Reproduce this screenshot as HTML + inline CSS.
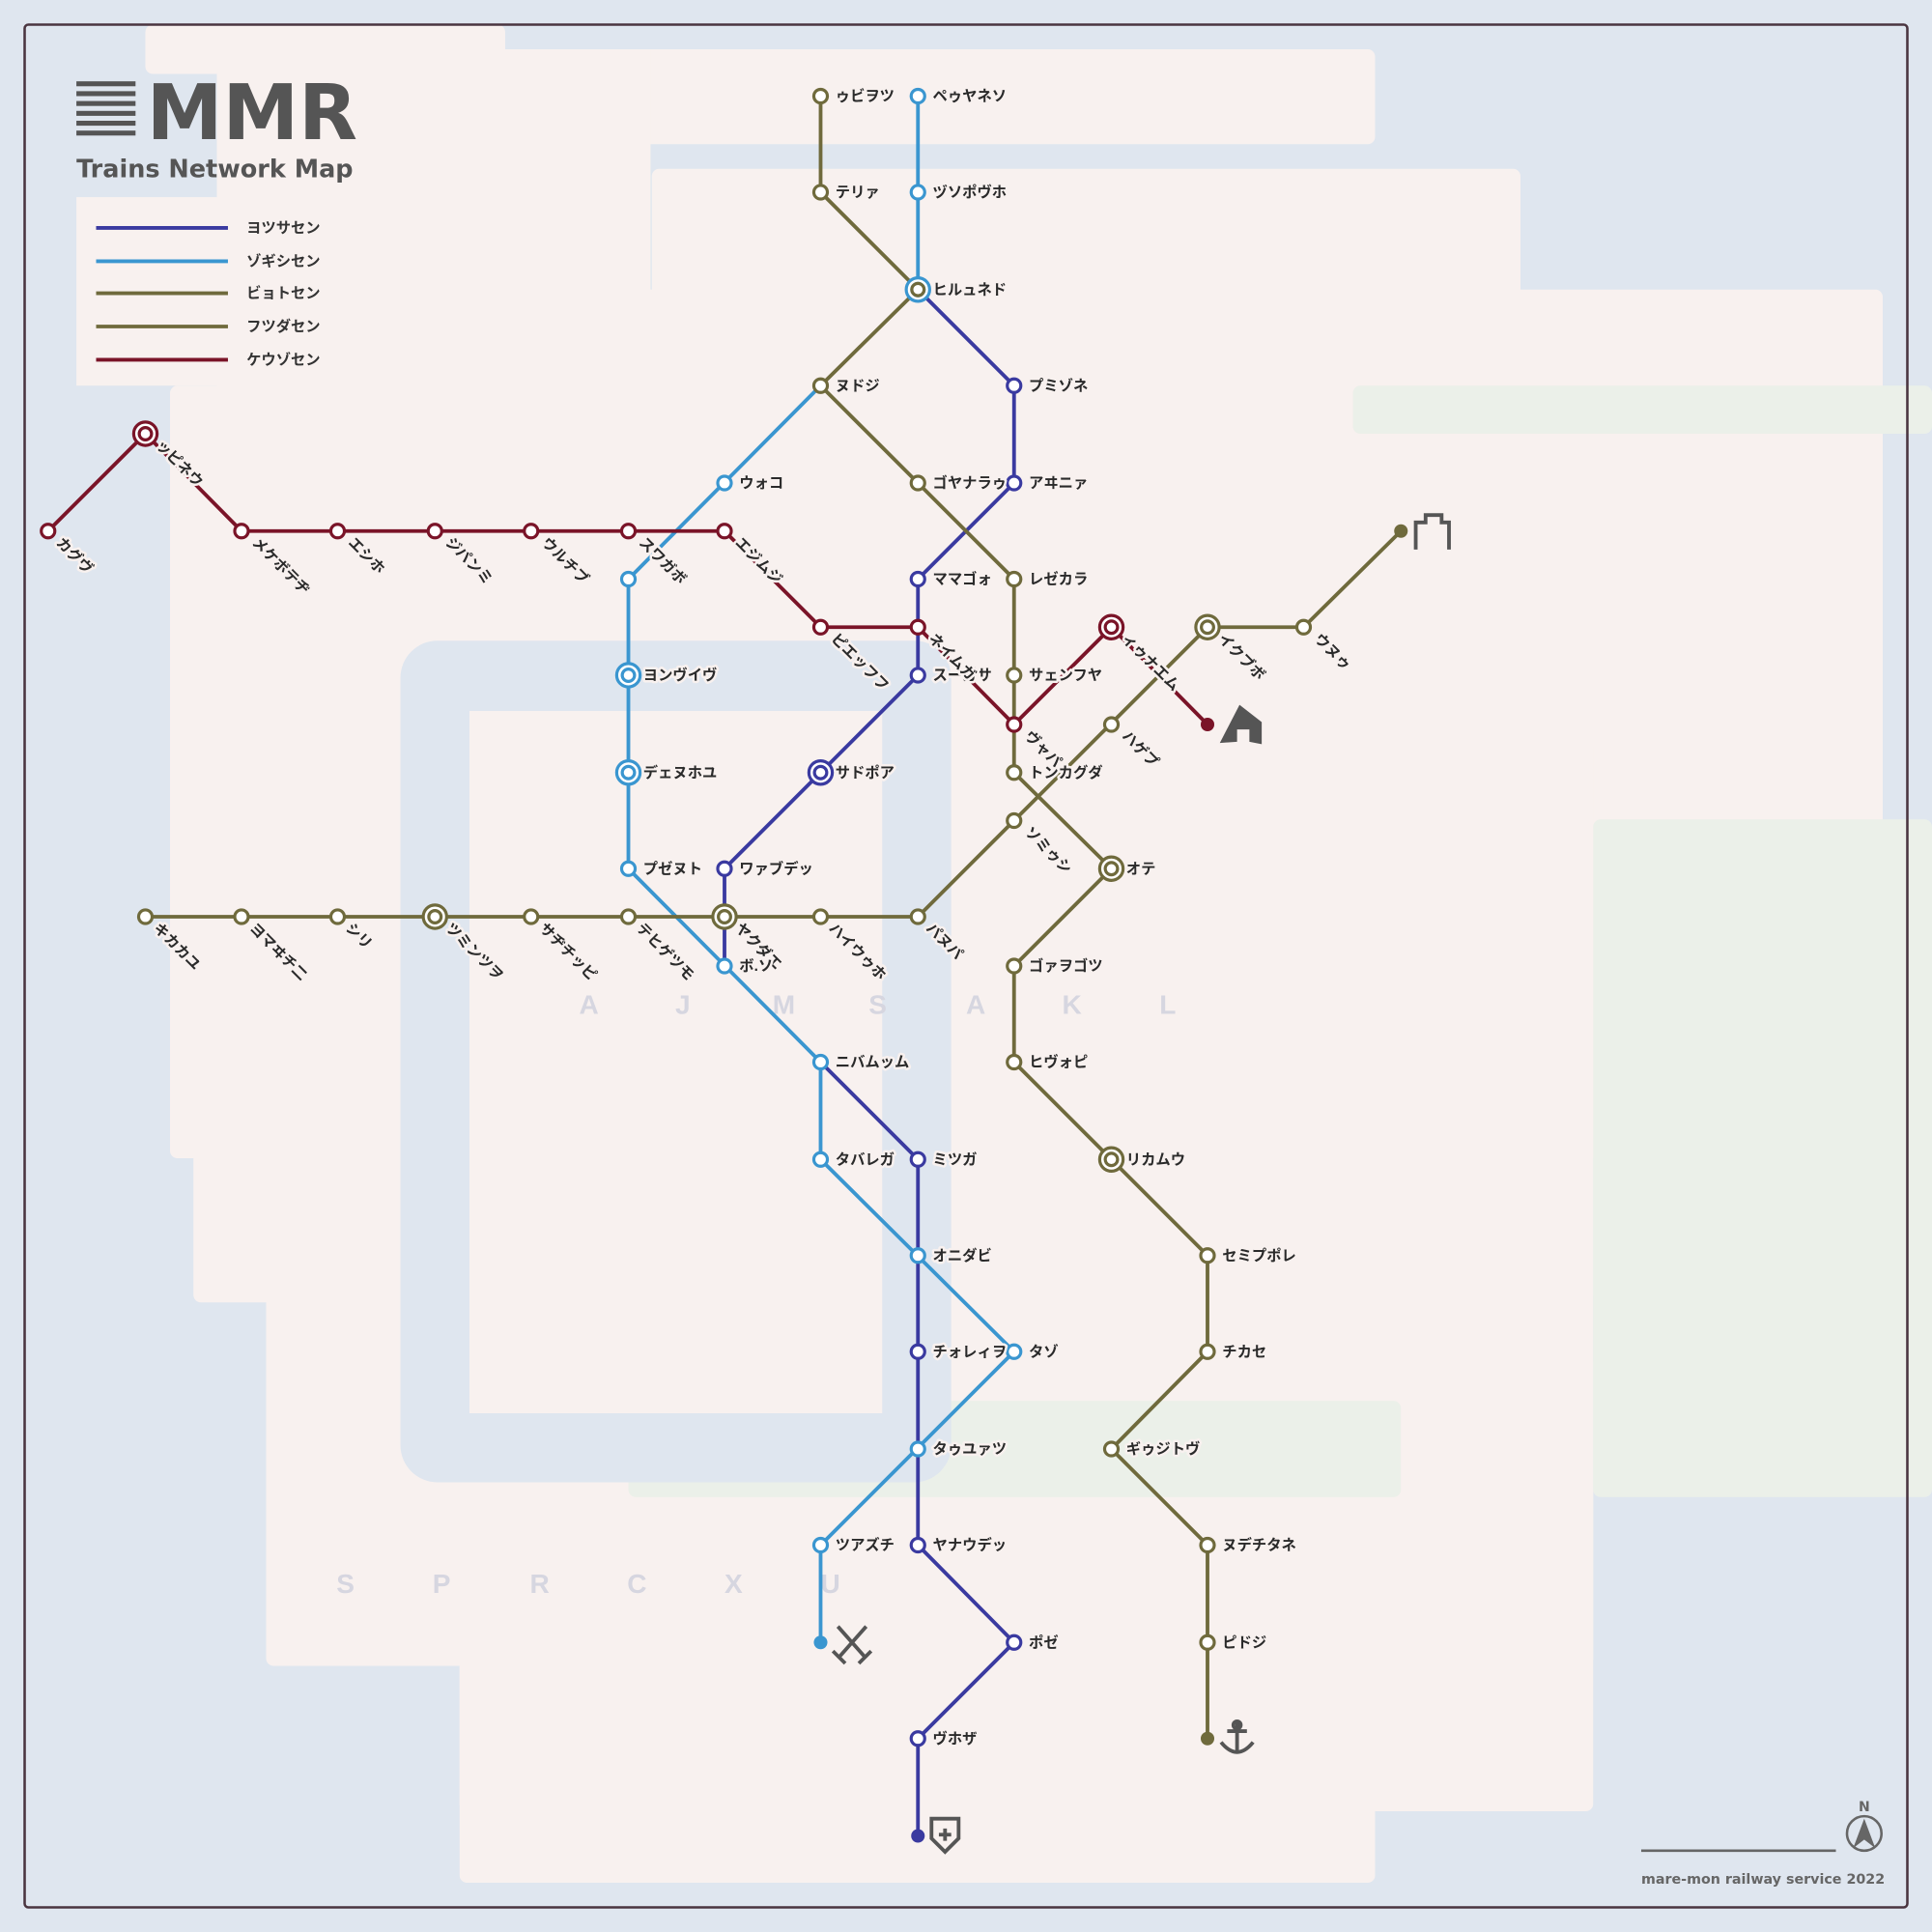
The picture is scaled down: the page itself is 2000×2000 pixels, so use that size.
<!DOCTYPE html>
<html><head><meta charset="utf-8"><style>
html,body{margin:0;padding:0;background:#dfe6ef;}
svg{display:block}
text{font-family:"Liberation Sans","Noto Sans CJK JP",sans-serif;}
.d{font-family:"DejaVu Sans","Liberation Sans",sans-serif;}
.l{font-size:12px;font-weight:bold;fill:#2a2a2a;paint-order:stroke;stroke:#f8f1ef;stroke-width:4px;stroke-linejoin:round}
.g{font-size:22px;fill:#d6d6e0;font-weight:bold}
.st{fill:#fff;stroke-width:2.5}
</style></head><body>
<svg width="2000" height="2000" viewBox="0 0 1568 1568" xmlns="http://www.w3.org/2000/svg">
<rect width="1568" height="1568" fill="#dfe6ef"/>
<g fill="#f8f1ef">
<rect x="118" y="20" width="292" height="40" rx="6"/>
<rect x="176" y="40" width="940" height="77" rx="6"/>
<rect x="176" y="40" width="352" height="290"/>
<rect x="62" y="160" width="180" height="153"/>
<rect x="529" y="137" width="705" height="110" rx="6"/>
<rect x="234" y="235" width="1294" height="430" rx="6"/>
<rect x="138" y="313" width="1390" height="627" rx="6"/>
<rect x="157" y="600" width="1136" height="457" rx="6"/>
<rect x="216" y="900" width="1077" height="452" rx="6"/>
<rect x="373" y="1100" width="920" height="370" rx="6"/>
<rect x="373" y="1300" width="743" height="228" rx="6"/>
</g>
<g fill="#ebf0e9">
<rect x="1098" y="313" width="470" height="39" rx="6"/>
<rect x="1293" y="665" width="275" height="550" rx="6"/>
<rect x="510" y="1137" width="627" height="78" rx="6"/>
</g>
<rect x="325" y="520" width="447" height="683" rx="30" fill="#dfe6ef"/>
<rect x="381" y="577" width="335" height="570" fill="#f8f1ef"/>
<rect x="20" y="20" width="1528" height="1528" rx="3" fill="none" stroke="#4a3540" stroke-width="2"/>

<!-- title -->
<g fill="#555">
<rect x="62" y="66" width="48" height="4"/><rect x="62" y="74" width="48" height="4"/><rect x="62" y="82" width="48" height="4"/>
<rect x="62" y="90" width="48" height="4"/><rect x="62" y="98" width="48" height="4"/><rect x="62" y="106" width="48" height="4"/>
</g>
<text class="d" x="119" y="113" font-size="62" font-weight="bold" fill="#555">MMR</text>
<text class="d" x="62" y="144" font-size="20" font-weight="bold" fill="#555">Trains Network Map</text>
<g stroke-width="3">
<line x1="78" y1="185" x2="185" y2="185" stroke="#3a3aa0"/>
<line x1="78" y1="212" x2="185" y2="212" stroke="#3a96d0"/>
<line x1="78" y1="238" x2="185" y2="238" stroke="#6f6a3c"/>
<line x1="78" y1="265" x2="185" y2="265" stroke="#6f6a3c"/>
<line x1="78" y1="292" x2="185" y2="292" stroke="#7a1428"/>
</g>
<g font-size="12" font-weight="bold" fill="#333">
<text x="200" y="189">ヨツサセン</text><text x="200" y="216">ゾギシセン</text><text x="200" y="242">ビョトセン</text><text x="200" y="269">フツダセン</text><text x="200" y="296">ケウゾセン</text>
</g>

<g class="g"><text x="470" y="823">A</text><text x="548" y="823">J</text><text x="627" y="823">M</text><text x="705" y="823">S</text><text x="784" y="823">A</text><text x="862" y="823">K</text><text x="941" y="823">L</text>
<text x="273" y="1293">S</text><text x="351" y="1293">P</text><text x="430" y="1293">R</text><text x="509" y="1293">C</text><text x="588" y="1293">X</text><text x="666" y="1293">U</text></g>

<!-- lines -->
<g fill="none" stroke-width="3" stroke-linejoin="round">
<polyline stroke="#3a96d0" points="745,78 745,235"/>
<polyline stroke="#3a96d0" points="666,313 510,470 510,705 666,862 666,941 823,1097 666,1254 666,1333"/>
<polyline stroke="#3a3aa0" points="745,235 823,313 823,392 745,470 745,548 588,705 588,784"/>
<polyline stroke="#3a3aa0" points="666,862 745,941 745,1254 823,1333 745,1411 745,1490"/>
<polyline stroke="#6f6a3c" points="666,78 666,156 745,235 666,313 745,392 823,470 823,627 902,705 823,784 823,862 902,941 980,1019 980,1097 902,1176 980,1254 980,1411"/>
<polyline stroke="#6f6a3c" points="118,744 745,744 980,509 1058,509 1137,431"/>
<polyline stroke="#7a1428" points="39,431 118,352 196,431 588,431 666,509 745,509 823,588 902,509"/>
<polyline stroke="#7a1428" points="902,509 980,588"/>
</g>

<!-- stations -->
<g class="st" stroke="#3a96d0"><circle cx="745" cy="78" r="5.5"/><circle cx="745" cy="156" r="5.5"/><circle cx="588" cy="392" r="5.5"/><circle cx="510" cy="470" r="5.5"/><circle cx="510" cy="705" r="5.5"/><circle cx="588" cy="784" r="5.5"/><circle cx="666" cy="862" r="5.5"/><circle cx="666" cy="941" r="5.5"/><circle cx="745" cy="1019" r="5.5"/><circle cx="823" cy="1097" r="5.5"/><circle cx="745" cy="1176" r="5.5"/><circle cx="666" cy="1254" r="5.5"/></g>
<g class="st" stroke="#3a3aa0"><circle cx="823" cy="313" r="5.5"/><circle cx="823" cy="392" r="5.5"/><circle cx="745" cy="470" r="5.5"/><circle cx="745" cy="548" r="5.5"/><circle cx="588" cy="705" r="5.5"/><circle cx="745" cy="941" r="5.5"/><circle cx="745" cy="1097" r="5.5"/><circle cx="745" cy="1254" r="5.5"/><circle cx="823" cy="1333" r="5.5"/><circle cx="745" cy="1411" r="5.5"/></g>
<g class="st" stroke="#6f6a3c"><circle cx="666" cy="78" r="5.5"/><circle cx="666" cy="156" r="5.5"/><circle cx="666" cy="313" r="5.5"/><circle cx="745" cy="392" r="5.5"/><circle cx="823" cy="470" r="5.5"/><circle cx="823" cy="548" r="5.5"/><circle cx="823" cy="627" r="5.5"/><circle cx="823" cy="784" r="5.5"/><circle cx="823" cy="862" r="5.5"/><circle cx="980" cy="1019" r="5.5"/><circle cx="980" cy="1097" r="5.5"/><circle cx="902" cy="1176" r="5.5"/><circle cx="980" cy="1254" r="5.5"/><circle cx="980" cy="1333" r="5.5"/>
<circle cx="118" cy="744" r="5.5"/><circle cx="196" cy="744" r="5.5"/><circle cx="274" cy="744" r="5.5"/><circle cx="431" cy="744" r="5.5"/><circle cx="510" cy="744" r="5.5"/><circle cx="666" cy="744" r="5.5"/><circle cx="745" cy="744" r="5.5"/><circle cx="823" cy="666" r="5.5"/><circle cx="902" cy="588" r="5.5"/><circle cx="1058" cy="509" r="5.5"/></g>
<g class="st" stroke="#7a1428"><circle cx="39" cy="431" r="5.5"/><circle cx="196" cy="431" r="5.5"/><circle cx="274" cy="431" r="5.5"/><circle cx="353" cy="431" r="5.5"/><circle cx="431" cy="431" r="5.5"/><circle cx="510" cy="431" r="5.5"/><circle cx="588" cy="431" r="5.5"/><circle cx="666" cy="509" r="5.5"/><circle cx="745" cy="509" r="5.5"/><circle cx="823" cy="588" r="5.5"/></g>
<!-- interchanges -->
<g fill="#fff" stroke-width="2.5">
<g stroke="#3a96d0"><circle cx="745" cy="235" r="9.5"/><circle cx="745" cy="235" r="5"/><circle cx="510" cy="548" r="9.5"/><circle cx="510" cy="548" r="5"/><circle cx="510" cy="627" r="9.5"/><circle cx="510" cy="627" r="5"/></g>
<g stroke="#6f6a3c"><circle cx="745" cy="235" r="5"/><circle cx="353" cy="744" r="9.5"/><circle cx="353" cy="744" r="5"/><circle cx="588" cy="744" r="9.5"/><circle cx="588" cy="744" r="5"/><circle cx="902" cy="705" r="9.5"/><circle cx="902" cy="705" r="5"/><circle cx="902" cy="941" r="9.5"/><circle cx="902" cy="941" r="5"/><circle cx="980" cy="509" r="9.5"/><circle cx="980" cy="509" r="5"/></g>
<g stroke="#3a3aa0"><circle cx="666" cy="627" r="9.5"/><circle cx="666" cy="627" r="5"/></g>
<g stroke="#7a1428"><circle cx="118" cy="352" r="9.5"/><circle cx="118" cy="352" r="5"/><circle cx="902" cy="509" r="9.5"/><circle cx="902" cy="509" r="5"/></g>
</g>
<!-- terminal dots -->
<circle cx="666" cy="1333" r="5.5" fill="#3a96d0"/><circle cx="745" cy="1490" r="5.5" fill="#3a3aa0"/><circle cx="980" cy="1411" r="5.5" fill="#6f6a3c"/><circle cx="1137" cy="431" r="5.5" fill="#6f6a3c"/><circle cx="980" cy="588" r="5.5" fill="#7a1428"/>
<!-- icons -->
<g stroke="#555" stroke-width="3" fill="none">
<path d="M1149 446 V424 H1157 V418 H1170 V424 H1176 V446"/>
<path d="M680 1320 L703 1346 M703 1320 L680 1346 M676 1340 L686 1350 M707 1340 L697 1350"/>
<path d="M1004 1398 V1423 M996 1405 H1012 M991 1414 Q1004 1430 1017 1414"/>
<circle cx="1004" cy="1400" r="3"/>
<path d="M756 1476 H778 V1492 L767 1503 L756 1492 Z"/>
</g>
<path d="M762 1489 H772 M767 1484 V1494" stroke="#555" stroke-width="3"/>
<path d="M990 603 L1006 572 L1024 586 L1024 604 L1014 602 L1014 592 L1004 592 L1004 602 Z" fill="#555"/>

<!-- horizontal labels -->
<g class="l">
<text x="678" y="82">ゥビヲツ</text><text x="757" y="82">ペゥヤネソ</text>
<text x="678" y="160">テリァ</text><text x="757" y="160">ヅソポヴホ</text>
<text x="757" y="239">ヒルュネド</text>
<text x="678" y="317">ヌドジ</text><text x="835" y="317">プミゾネ</text>
<text x="600" y="396">ウォコ</text><text x="757" y="396">ゴヤナラゥ</text><text x="835" y="396">アヰニァ</text>
<text x="757" y="474">ママゴォ</text><text x="835" y="474">レゼカラ</text>
<text x="522" y="552">ヨンヴイヴ</text><text x="757" y="552">スーガサ</text><text x="835" y="552">サェンフヤ</text>
<text x="522" y="631">デェヌホユ</text><text x="678" y="631">サドポア</text><text x="835" y="631">トンカグダ</text>
<text x="522" y="709">プゼヌト</text><text x="600" y="709">ワァブデッ</text><text x="914" y="709">オテ</text>
<text x="835" y="788">ゴァヲゴツ</text>
<text x="678" y="866">ニバムッム</text><text x="835" y="866">ヒヴォピ</text>
<text x="678" y="945">タバレガ</text><text x="757" y="945">ミツガ</text><text x="914" y="945">リカムウ</text>
<text x="757" y="1023">オニダビ</text><text x="992" y="1023">セミプポレ</text>
<text x="757" y="1101">チォレィヲ</text><text x="835" y="1101">タゾ</text><text x="992" y="1101">チカセ</text>
<text x="757" y="1180">タゥユァツ</text><text x="914" y="1180">ギゥジトヴ</text>
<text x="678" y="1258">ツアズチ</text><text x="757" y="1258">ヤナウデッ</text><text x="992" y="1258">ヌデチタネ</text>
<text x="835" y="1337">ポゼ</text><text x="992" y="1337">ピドジ</text>
<text x="757" y="1415">ヴホザ</text>
</g>
<!-- rotated labels -->
<g class="l">
<text transform="translate(45,441) rotate(45)">カグヴ</text>
<text transform="translate(126,362) rotate(45)">ッピネウ</text>
<text transform="translate(204,441) rotate(45)">メケボテヂ</text>
<text transform="translate(282,441) rotate(45)">エシホ</text>
<text transform="translate(361,441) rotate(45)">ジパンミ</text>
<text transform="translate(439,441) rotate(45)">ウルチブ</text>
<text transform="translate(518,441) rotate(45)">スワガボ</text>
<text transform="translate(596,441) rotate(45)">エジムジ</text>
<text transform="translate(674,519) rotate(45)">ピエッフフ</text>
<text transform="translate(753,519) rotate(45)">ネイムガ</text>
<text transform="translate(831,598) rotate(45)">ヴャパ</text>
<text transform="translate(910,519) rotate(45)">ィゥナエム</text>
<text transform="translate(988,519) rotate(45)">イクブボ</text>
<text transform="translate(1066,519) rotate(45)">ウヌゥ</text>
<text transform="translate(910,598) rotate(45)">ハゲプ</text>
<text transform="translate(831,676) rotate(45)">ソミゥシ</text>
<text transform="translate(124,754) rotate(45)">キカカユ</text>
<text transform="translate(202,754) rotate(45)">ヨマヰチ二</text>
<text transform="translate(280,754) rotate(45)">シリ</text>
<text transform="translate(361,754) rotate(45)">ツミンツヲ</text>
<text transform="translate(437,754) rotate(45)">サヂチッピ</text>
<text transform="translate(516,754) rotate(45)">テヒゲツモ</text>
<text transform="translate(596,754) rotate(45)">ヤクダエ</text>
<text transform="translate(672,754) rotate(45)">ハイウゥホ</text>
<text transform="translate(751,754) rotate(45)">パヌパ</text>
</g>
<text class="l" x="600" y="788">ボ.ソ</text>

<!-- footer -->
<line x1="1332" y1="1502" x2="1490" y2="1502" stroke="#666" stroke-width="2"/>
<circle cx="1513" cy="1488" r="14" fill="none" stroke="#666" stroke-width="2"/>
<path d="M1513 1476 L1504 1500 L1513 1493 L1522 1500 Z" fill="#666"/>
<text class="d" x="1513" y="1470" font-size="11" font-weight="bold" fill="#666" text-anchor="middle">N</text>
<text class="d" x="1332" y="1529" font-size="11.2" font-weight="bold" fill="#666">mare-mon railway service 2022</text>
</svg>
</body></html>
